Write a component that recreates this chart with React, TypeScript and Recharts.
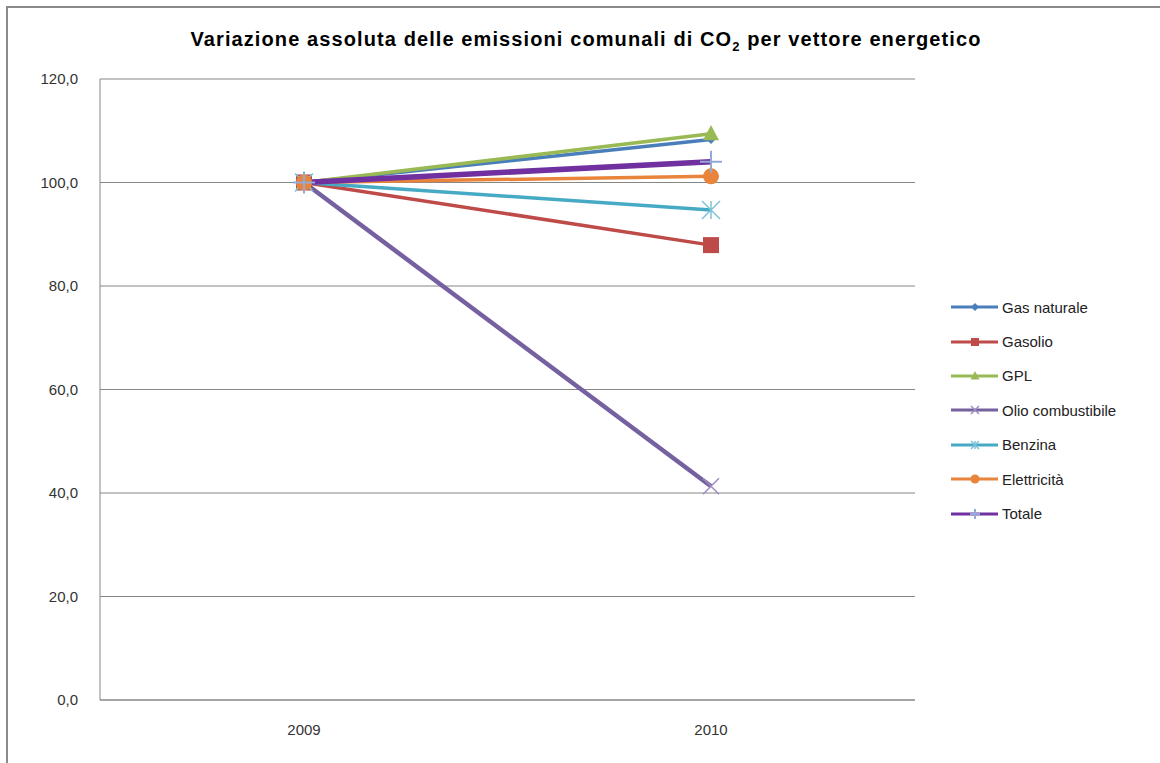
import React from 'react';
import { LineChart, Line, XAxis, YAxis, CartesianGrid } from 'recharts';

// Valori indicizzati (2009 = 100)
const years = ['2009', '2010'];
const gasNaturale = [100, 108.3];
const gasolio = [100, 87.9];
const gpl = [100, 109.4];
const olioCombustibile = [100, 41.3];
const benzina = [100, 94.7];
const elettricita = [100, 101.2];
const totale = [100, 104.0];
const yTicks = [0, 20, 40, 60, 80, 100, 120];

type Shape = 'diamond' | 'square' | 'triangle' | 'x' | 'star' | 'circle' | 'plus';

interface SeriesDef {
  key: string;
  name: string;
  color: string;
  values: number[];
  shape: Shape;
  width: number;
  markerColor?: string;
}

const series: SeriesDef[] = [
  { key: 'gas', name: 'Gas naturale', color: '#4A7EBB', values: gasNaturale, shape: 'diamond', width: 3.5 },
  { key: 'gasolio', name: 'Gasolio', color: '#BE4B48', values: gasolio, shape: 'square', width: 3.5 },
  { key: 'gpl', name: 'GPL', color: '#98B954', values: gpl, shape: 'triangle', width: 3.5 },
  { key: 'olio', name: 'Olio combustibile', color: '#7560A0', values: olioCombustibile, shape: 'x', width: 4.5, markerColor: '#9E8CC0' },
  { key: 'benzina', name: 'Benzina', color: '#46AAC5', values: benzina, shape: 'star', width: 3.5, markerColor: '#7FC3D8' },
  { key: 'elettricita', name: 'Elettricità', color: '#E8843C', values: elettricita, shape: 'circle', width: 3.5 },
  { key: 'totale', name: 'Totale', color: '#7030A0', values: totale, shape: 'plus', width: 5.5, markerColor: '#93A9D8' },
];

const data = years.map((year, i) => {
  const row: Record<string, string | number> = { year };
  series.forEach((s) => {
    row[s.key] = s.values[i];
  });
  return row;
});

function Marker({ cx, cy, shape, color, size }: { cx: number; cy: number; shape: Shape; color: string; size: number }) {
  const r = size / 2;
  switch (shape) {
    case 'diamond':
      return <path d={`M${cx},${cy - r} L${cx + r},${cy} L${cx},${cy + r} L${cx - r},${cy} Z`} fill={color} />;
    case 'square':
      return <rect x={cx - r} y={cy - r} width={size} height={size} fill={color} />;
    case 'triangle':
      return <path d={`M${cx},${cy - r * 1.1} L${cx + r},${cy + r * 0.8} L${cx - r},${cy + r * 0.8} Z`} fill={color} />;
    case 'circle':
      return <circle cx={cx} cy={cy} r={r} fill={color} />;
    case 'x':
      return (
        <path
          d={`M${cx - r},${cy - r} L${cx + r},${cy + r} M${cx + r},${cy - r} L${cx - r},${cy + r}`}
          stroke={color}
          strokeWidth={1.5}
        />
      );
    case 'star':
      return (
        <path
          d={`M${cx - r},${cy - r} L${cx + r},${cy + r} M${cx + r},${cy - r} L${cx - r},${cy + r} M${cx},${cy - r} L${cx},${cy + r}`}
          stroke={color}
          strokeWidth={1.5}
        />
      );
    case 'plus':
      return (
        <path d={`M${cx - r},${cy} L${cx + r},${cy} M${cx},${cy - r} L${cx},${cy + r}`} stroke={color} strokeWidth={2} />
      );
    default:
      return null;
  }
}

const legendSizes: Record<Shape, number> = {
  diamond: 8,
  square: 8,
  triangle: 9,
  x: 8,
  star: 8,
  circle: 9,
  plus: 10,
};

const chartSizes: Record<Shape, number> = {
  diamond: 9,
  square: 16,
  triangle: 16,
  x: 16,
  star: 18,
  circle: 16,
  plus: 22,
};

function CustomLegend() {
  return (
    <div style={{ fontFamily: '"Liberation Sans", Arial, sans-serif', fontSize: 15, color: '#222' }}>
      {series.map((s) => (
        <div key={s.key} style={{ display: 'flex', alignItems: 'center', height: 34.4 }}>
          <svg width={50} height={14} style={{ marginRight: 2 }}>
            <line x1={1} y1={7} x2={48} y2={7} stroke={s.color} strokeWidth={3} />
            <Marker cx={25} cy={7} shape={s.shape} color={s.markerColor ?? s.color} size={legendSizes[s.shape]} />
          </svg>
          <span>{s.name}</span>
        </div>
      ))}
    </div>
  );
}

const fmt = (v: number) => v.toFixed(1).replace('.', ',');

export default function App() {
  return (
    <div
      style={{
        position: 'fixed',
        left: 0,
        top: 0,
        width: 1160,
        height: 763,
        overflow: 'hidden',
        background: '#fff',
      }}
    >
      <div
        style={{
          position: 'absolute',
          left: 6,
          top: 6,
          width: 1200,
          height: 800,
          border: '2px solid #8A8A8A',
        }}
      />
      <div
        style={{
          position: 'absolute',
          left: 0,
          width: 1172,
          top: 28,
          textAlign: 'center',
          fontFamily: '"Liberation Sans", Arial, sans-serif',
          fontWeight: 'bold',
          fontSize: 20,
          letterSpacing: 1.1,
          color: '#000',
        }}
      >
        Variazione assoluta delle emissioni comunali di CO<sub style={{ fontSize: 13 }}>2</sub> per vettore energetico
      </div>
      <div style={{ position: 'absolute', left: 0, top: 0 }}>
        <LineChart width={1160} height={763} data={data} margin={{ top: 79, right: 245, bottom: 33, left: 0 }}>
          <CartesianGrid vertical={false} stroke="#868686" strokeWidth={1} />
          <XAxis
            dataKey="year"
            stroke="#868686"
            tickLine={false}
            tickSize={0}
            tickMargin={24}
            height={30}
            padding={{ left: 204, right: 204 }}
            tick={{ fill: '#333', fontSize: 15, fontFamily: '"Liberation Sans", Arial, sans-serif' }}
          />
          <YAxis
            domain={[0, 120]}
            ticks={yTicks}
            width={100}
            stroke="#868686"
            tickLine={false}
            tickSize={0}
            tickMargin={22}
            tickFormatter={fmt}
            tick={{ fill: '#333', fontSize: 15, fontFamily: '"Liberation Sans", Arial, sans-serif' }}
          />
          {series.map((s) => (
            <Line
              key={s.key}
              type="linear"
              dataKey={s.key}
              name={s.name}
              stroke={s.color}
              strokeWidth={s.width}
              isAnimationActive={false}
              dot={(p: any) => (
                <Marker
                  key={`${s.key}-${p.index}`}
                  cx={p.cx}
                  cy={p.cy}
                  shape={s.shape}
                  color={s.markerColor ?? s.color}
                  size={chartSizes[s.shape]}
                />
              )}
              activeDot={false}
            />
          ))}
        </LineChart>
      </div>
      <div style={{ position: 'absolute', left: 950, top: 290 }}>
        <CustomLegend />
      </div>
    </div>
  );
}
